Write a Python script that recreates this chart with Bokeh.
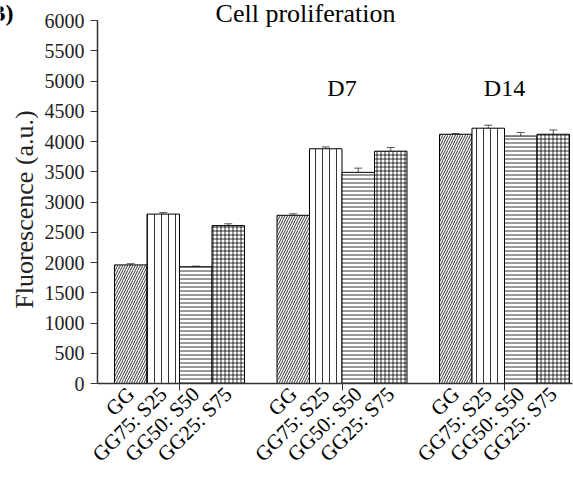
import math
from bokeh.plotting import figure
from bokeh.layouts import row
from bokeh.models import (Range1d, FixedTicker, Whisker, TeeHead, ColumnDataSource)
from bokeh.core.properties import value
from bokeh.embed import file_html
from bokeh.resources import INLINE

# ---- data ----
group_labels = ["", "D7", "D14"]
compositions = ["GG", "GG75: S25", "GG50: S50", "GG25: S75"]
gg = [1960, 2780, 4120]
gg_err = [20, 25, 10]
gg75_s25 = [2800, 3880, 4220]
gg75_s25_err = [25, 30, 50]
gg50_s50 = [1930, 3490, 4090]
gg50_s50_err = [10, 70, 60]
gg25_s75 = [2610, 3840, 4120]
gg25_s75_err = [30, 60, 70]
y_ticks = list(range(0, 6001, 500))
title_text = "Cell proliferation"
panel_text = "B)"
y_label = "Fluorescence (a.u.)"

series = [gg, gg75_s25, gg50_s50, gg25_s75]
errors = [gg_err, gg75_s25_err, gg50_s50_err, gg25_s75_err]
patterns = ["right_diagonal_line", "vertical_line", "horizontal_line", "cross"]
scales = [5, 7, 4, 4]

FONT = "Liberation Serif"
PITCH = 5  # 4 bars + 1 gap per group
Y_MAX = 6000
FRAME_H = 383
BOTTOM = 109
Y_TOP = Y_MAX * FRAME_H / 363  # frame extends to the top of the canvas
W, H = 573, 492
SIDE_W = 38

# ---- left strip: panel letter + y-axis title (pixel coordinates, y up from frame bottom) ----
side = figure(width=SIDE_W, height=H, output_backend="svg", toolbar_location=None,
              x_range=Range1d(0, SIDE_W), y_range=Range1d(0, FRAME_H),
              x_axis_location=None, y_axis_location=None,
              min_border_left=0, min_border_right=0, min_border_top=0,
              min_border_bottom=BOTTOM)
side.outline_line_color = None
side.grid.visible = False
side.text(x=[13], y=[FRAME_H - 12], text=[panel_text], text_font=value(FONT),
          text_font_style="bold", text_font_size="24px", text_align="right",
          text_baseline="middle", text_color="black")
side.text(x=[24], y=[FRAME_H - 209], text=[y_label], text_font=value(FONT),
          text_font_size="26px", text_align="center", text_baseline="middle",
          angle=math.pi / 2, text_color="#222222")

# ---- main chart ----
p = figure(width=W - SIDE_W, height=H, output_backend="svg", toolbar_location=None,
           x_range=Range1d(-1.023, 13.592), y_range=Range1d(0, Y_TOP),
           min_border_left=97 - SIDE_W, min_border_right=1, min_border_top=0,
           min_border_bottom=BOTTOM)
p.outline_line_color = None
p.grid.visible = False
p.background_fill_color = "white"

n_groups = len(group_labels)
tick_pos = []
overrides = {}
for b, (vals, errs) in enumerate(zip(series, errors)):
    xs = [g * PITCH + b for g in range(n_groups)]
    src = ColumnDataSource(dict(x=xs, top=vals,
                                upper=[v + e for v, e in zip(vals, errs)],
                                lower=[v - e for v, e in zip(vals, errs)]))
    p.vbar(x="x", top="top", width=1, bottom=0, source=src,
           fill_color="white", line_color="black", line_width=1,
           hatch_pattern=patterns[b], hatch_color="black", hatch_weight=0.8,
           hatch_scale=scales[b])
    p.add_layout(Whisker(base="x", upper="upper", lower="lower", source=src,
                         line_color="#555555", line_width=1,
                         upper_head=TeeHead(size=8, line_color="#555555", line_width=1),
                         lower_head=TeeHead(size=8, line_color="#555555", line_width=1)))
    for x in xs:
        tick_pos.append(x)
        overrides[x] = compositions[b]

tick_pos.sort()
group_centers = [g * PITCH + 1.5 for g in range(n_groups)]

xa = p.xaxis[0]
xa.ticker = FixedTicker(ticks=tick_pos, minor_ticks=group_centers)
xa.major_label_overrides = overrides
xa.major_label_orientation = math.pi / 4
xa.major_tick_line_color = None
xa.minor_tick_in = 0
xa.minor_tick_out = 7
xa.minor_tick_line_color = "#333333"
xa.major_label_text_font = FONT
xa.major_label_text_font_size = "21px"
xa.major_label_text_color = "black"
xa.major_label_standoff = 0
xa.axis_line_color = "#333333"
xa.axis_line_width = 1.5

ya = p.yaxis[0]
ya.ticker = FixedTicker(ticks=y_ticks)
ya.bounds = (0, Y_MAX)
ya.minor_tick_line_color = None
ya.major_tick_in = 0
ya.major_tick_out = 7
ya.major_tick_line_color = "#333333"
ya.axis_line_color = "#333333"
ya.axis_line_width = 1.5
ya.major_label_text_font = FONT
ya.major_label_text_font_size = "20px"
ya.major_label_text_color = "#222222"
ya.major_label_standoff = 6

# group labels above bars
lab_src = ColumnDataSource(dict(x=group_centers, y=[4880] * n_groups, t=group_labels))
p.text(x="x", y="y", text="t", source=lab_src, text_font=value(FONT),
       text_font_size="24px", text_align="center", text_baseline="middle",
       text_color="black")

# chart title inside the (extended) frame
p.text(x=[5.377], y=[6115], text=[title_text], text_font=value(FONT),
       text_font_size="26px", text_align="center", text_baseline="middle",
       text_color="black")

layout = row(side, p, spacing=0)
open("out.html", "w").write(file_html(layout, INLINE))
